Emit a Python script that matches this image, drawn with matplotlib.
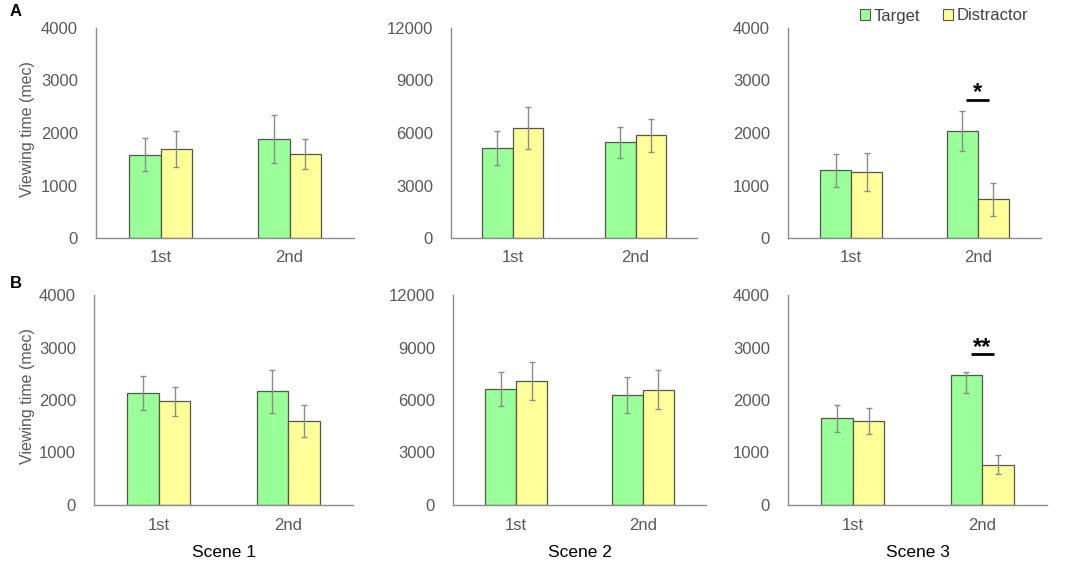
import matplotlib
matplotlib.use("Agg")
import matplotlib.pyplot as plt
import numpy as np

plt.rcParams['font.family'] = ['Liberation Sans', 'DejaVu Sans']

categories = ["1st", "2nd"]
series_names = ["Target", "Distractor"]

# Row A
A1_target = [1590, 1890]; A1_target_err = [320, 455]
A1_distr = [1690, 1600]; A1_distr_err = [345, 295]
A2_target = [5130, 5460]; A2_target_err = [975, 870]
A2_distr = [6280, 5860]; A2_distr_err = [1200, 965]
A3_target = [1290, 2045]; A3_target_err = [310, 380]
A3_distr = [1255, 740]; A3_distr_err = [355, 315]
# Row B
B1_target = [2130, 2170]; B1_target_err = [327, 410]
B1_distr = [1980, 1595]; B1_distr_err = [276, 308]
B2_target = [6640, 6270]; B2_target_err = [980, 1030]
B2_distr = [7090, 6590]; B2_distr_err = [1095, 1125]
B3_target = [1650, 2476]; B3_target_err_low = [250, 345]; B3_target_err_high = [250, 50]
B3_distr = [1605, 770]; B3_distr_err = [248, 180]

ylim_small = 4000
ylim_big = 12000
yticks_small = [0, 1000, 2000, 3000, 4000]
yticks_big = [0, 3000, 6000, 9000, 12000]
scene_labels = ["Scene 1", "Scene 2", "Scene 3"]
ylabel = "Viewing time (mec)"

sig_A3 = "*"; sig_A3_y = 2630
sig_B3 = "**"; sig_B3_y = 2870

GREEN = "#99FF99"
YELLOW = "#FFFF99"
EDGE = "#55554a"
ERRC = "#8c8c8c"
AXC = "#8c8c8c"
TXT = "#595959"

W, H = 1084, 564
fig = plt.figure(figsize=(W / 100, H / 100), dpi=100)

def ax_at(x0, x1, ytop, ybot):
    return fig.add_axes([x0 / W, 1 - ybot / H, (x1 - x0) / W, (ybot - ytop) / H])

boxes = [
    (96, 354, 28, 238), (451, 697, 28, 238), (788, 1041, 28, 238),
    (94, 353, 295, 505), (453, 706, 295, 505), (788, 1047, 295, 505),
]

panels = [
    (A1_target, [A1_target_err, A1_target_err], A1_distr, A1_distr_err, ylim_small, yticks_small),
    (A2_target, [A2_target_err, A2_target_err], A2_distr, A2_distr_err, ylim_big, yticks_big),
    (A3_target, [A3_target_err, A3_target_err], A3_distr, A3_distr_err, ylim_small, yticks_small),
    (B1_target, [B1_target_err, B1_target_err], B1_distr, B1_distr_err, ylim_small, yticks_small),
    (B2_target, [B2_target_err, B2_target_err], B2_distr, B2_distr_err, ylim_big, yticks_big),
    (B3_target, [B3_target_err_low, B3_target_err_high], B3_distr, B3_distr_err, ylim_small, yticks_small),
]

bw = 0.245
x = np.arange(len(categories))
axes = []
for i, (box, p) in enumerate(zip(boxes, panels)):
    ax = ax_at(*box)
    axes.append(ax)
    t, terr, d, derr, ymax, yt = p
    ax.bar(x - bw / 2, t, bw, color=GREEN, edgecolor=EDGE, linewidth=0.9,
           yerr=terr, error_kw=dict(ecolor=ERRC, elinewidth=1, capsize=2, capthick=1),
           label=series_names[0], zorder=2)
    ax.bar(x + bw / 2, d, bw, color=YELLOW, edgecolor=EDGE, linewidth=0.9,
           yerr=[derr, derr], error_kw=dict(ecolor=ERRC, elinewidth=1, capsize=2, capthick=1),
           label=series_names[1], zorder=2)
    ax.set_xlim(-0.5, 1.5)
    ax.set_ylim(0, ymax)
    ax.set_yticks(yt)
    ax.set_xticks(x)
    ax.set_xticklabels(categories)
    for s in ["top", "right"]:
        ax.spines[s].set_visible(False)
    for s in ["left", "bottom"]:
        ax.spines[s].set_color(AXC)
        ax.spines[s].set_linewidth(1)
    ax.tick_params(axis="y", length=0, pad=13, labelsize=12, labelcolor=TXT)
    ax.tick_params(axis="x", length=0, pad=9, labelsize=12, labelcolor=TXT)
    if i in (0, 3):
        ax.set_ylabel(ylabel, fontsize=11.5, color=TXT)
        x0 = box[0]
        ax.yaxis.set_label_coords((35 - x0) / (box[1] - x0), 0.52)
    if i >= 3:
        ax.set_xlabel(scene_labels[i - 3], fontsize=12.5, color="black", labelpad=9)

# significance markers
for ax, txt, yv in [(axes[2], sig_A3, sig_A3_y), (axes[5], sig_B3, sig_B3_y)]:
    ax.plot([0.91, 1.09], [yv, yv], color="black", linewidth=2, solid_capstyle="butt", zorder=3)
    ax.text(1.0, yv - 80, txt, ha="center", va="bottom", fontsize=17,
            fontweight="bold", color="black")

fig.text(10 / W, 1 - 12 / H, "A", fontsize=12, fontweight="bold", va="center", ha="left")
fig.text(10 / W, 1 - 283 / H, "B", fontsize=12, fontweight="bold", va="center", ha="left")

handles, labels = axes[2].get_legend_handles_labels()
leg = fig.legend(handles, labels, loc="center", bbox_to_anchor=(944 / W, 1 - 16 / H),
                 ncol=2, frameon=False, fontsize=12, handlelength=0.6, handleheight=0.6,
                 handletextpad=0.2, columnspacing=1.4, borderpad=0)
for t in leg.get_texts():
    t.set_color("#404040")
for h in leg.legend_handles:
    h.set_linewidth(0.8)

fig.savefig("out.png", dpi=100)
